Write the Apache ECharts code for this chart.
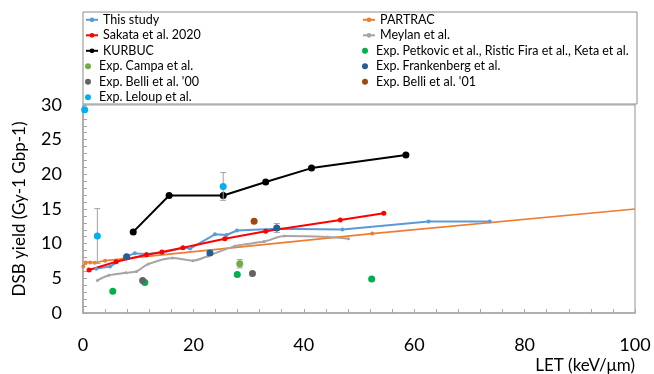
<!DOCTYPE html>
<html><head><meta charset="utf-8">
<script src="https://cdn.jsdelivr.net/npm/echarts@6/dist/echarts.min.js"></script>
<style>html,body{margin:0;padding:0;background:#fff}#c{width:654px;height:374px}</style>
</head><body><div id="c"></div>
<script>
// ---- data (LET in keV/um, DSB yield in Gy-1 Gbp-1) ----
const thisStudyLET   = [2.4, 4.9, 7.9, 9.4, 11.5, 14.3, 18.2, 19.4, 23.9, 26.0, 27.9, 35.1, 47.0, 62.6, 73.7];
const thisStudyYield = [6.4, 6.7, 8.2, 8.6, 8.5, 8.7, 9.4, 9.3, 11.35, 11.25, 11.9, 12.15, 12.05, 13.2, 13.2];

const partracLET   = [0.05, 0.5, 1.3, 2.1, 4.0, 52.4, 100];
const partracYield = [6.7, 7.3, 7.3, 7.25, 7.55, 11.45, 15.0];

const sakataLET   = [1.1, 6.0, 11.5, 14.3, 18.1, 25.7, 33.1, 46.6, 54.5];
const sakataYield = [6.2, 7.4, 8.4, 8.8, 9.4, 10.7, 11.8, 13.4, 14.4];

const meylanLET   = [2.6, 4.7, 7.8, 9.7, 11.8, 16.2, 19.9, 22.6, 27.5, 32.8, 36.5, 44.3, 48.1];
const meylanYield = [4.7, 5.45, 5.8, 6.0, 7.05, 7.95, 7.55, 8.2, 9.65, 10.3, 11.1, 10.95, 10.7];

const kurbucLET   = [9.1, 15.6, 25.4, 33.1, 41.4, 58.5];
const kurbucYield = [11.7, 16.95, 16.95, 18.9, 20.9, 22.8];

const petkovicLET   = [5.4, 11.2, 27.95, 52.3];
const petkovicYield = [3.15, 4.4, 5.55, 4.9];

const campaLET   = [28.4];
const campaYield = [7.1];
const campaErr   = [0.6];

const frankenbergLET   = [7.9, 23.0, 35.1];
const frankenbergYield = [8.1, 8.65, 12.25];
const frankenbergErr   = [0, 0, 0.65];

const belli00LET   = [10.8, 30.7];
const belli00Yield = [4.7, 5.7];

const belli01LET   = [31.0];
const belli01Yield = [13.25];

const leloupLET   = [0.3, 2.6, 25.4];
const leloupYield = [29.3, 11.1, 18.25];
const leloupErr   = [0, 3.95, 2.0];

const xTicks = {min: 0, max: 100, interval: 20};
const yTicks = {min: 0, max: 30, interval: 5};

const legendLeft  = ['This study', 'Sakata et al. 2020', 'KURBUC', 'Exp. Campa et al.', "Exp. Belli et al. '00", 'Exp. Leloup et al.'];
const legendRight = ['PARTRAC', 'Meylan et al.', 'Exp. Petkovic et al., Ristic Fira et al., Keta et al.', 'Exp. Frankenberg et al.', "Exp. Belli et al. '01"];

// ---- helpers ----
const zip = (xs, ys) => xs.map((x, i) => [x, ys[i]]);
const errData = (xs, ys, es) => xs.map((x, i) => [x, ys[i] - es[i], ys[i] + es[i]]).filter((d, i) => es[i] > 0);
const FONT = 'Lato';

function errRender(params, api) {
  const x = api.value(0), lo = api.value(1), hi = api.value(2);
  const p1 = api.coord([x, hi]), p2 = api.coord([x, lo]);
  const w = 3;
  const style = {stroke: '#A0A0A0', lineWidth: 1};
  return {type: 'group', children: [
    {type: 'line', shape: {x1: p1[0], y1: p1[1], x2: p2[0], y2: p2[1]}, style: style},
    {type: 'line', shape: {x1: p1[0] - w, y1: p1[1], x2: p1[0] + w, y2: p1[1]}, style: style},
    {type: 'line', shape: {x1: p2[0] - w, y1: p2[1], x2: p2[0] + w, y2: p2[1]}, style: style}
  ]};
}

function lineSeries(name, data, color, width, symSize, extra) {
  return Object.assign({
    name: name, type: 'line', data: data,
    symbol: 'circle', symbolSize: symSize, showSymbol: true,
    lineStyle: {color: color, width: width},
    itemStyle: {color: color},
    emphasis: {disabled: true}, animation: false
  }, extra || {});
}
function scatterSeries(name, xs, ys, color) {
  return {name: name, type: 'scatter', data: zip(xs, ys), symbol: 'circle', symbolSize: 7,
    itemStyle: {color: color, opacity: 1}, z: 5, animation: false};
}
function errSeries(data) {
  return {type: 'custom', renderItem: errRender, data: data, z: 4, silent: true, animation: false,
    encode: {x: 0, y: [1, 2]}};
}

// PARTRAC: no marker drawn at the final (axis-end) point
const partracData = zip(partracLET, partracYield).map((p, i, a) =>
  i === a.length - 1 ? {value: p, symbol: 'none'} : p);

// one legend component per row, so every row sits on the same 15.5px pitch
const legendText = {fontSize: 12.5, fontFamily: FONT, color: '#000', lineHeight: 12};
function legendRow(name, row, left) {
  return {orient: 'horizontal', left: left, top: 13.3 + row * 15.5, padding: 0,
    itemWidth: 12, itemHeight: 6, textStyle: legendText, selectedMode: false, data: [name]};
}
const legends = legendLeft.map((n, i) => legendRow(n, i, 85))
  .concat(legendRight.map((n, i) => legendRow(n, i, 362)));

const chart = echarts.init(document.getElementById('c'), null, {renderer: 'canvas'});
chart.setOption({
  backgroundColor: '#fff',
  animation: false,
  textStyle: {fontFamily: FONT},
  grid: {left: 83, right: 19, top: 105, bottom: 60, show: true, borderColor: '#A6A6A6', borderWidth: 1.2},
  graphic: [{type: 'rect', shape: {x: 83, y: 12, width: 554, height: 92},
    style: {fill: 'none', stroke: '#8C8C8C', lineWidth: 1}, z: 100}],
  legend: legends,
  xAxis: {
    type: 'value', min: xTicks.min, max: xTicks.max, interval: xTicks.interval,
    name: 'LET (keV/μm)', nameLocation: 'end', nameGap: 0,
    nameTextStyle: {fontSize: 17, fontFamily: FONT, color: '#000', align: 'right', verticalAlign: 'top', padding: [44, 0, 0, 0]},
    axisLine: {lineStyle: {color: '#A6A6A6', width: 1.5}},
    axisTick: {inside: true, length: 4, lineStyle: {color: '#A6A6A6'}},
    minorTick: {show: true, splitNumber: 5, length: 4, lineStyle: {color: '#A6A6A6'}},
    splitLine: {show: false},
    axisLabel: {fontSize: 18, fontFamily: FONT, color: '#000', margin: 23}
  },
  yAxis: {
    type: 'value', min: yTicks.min, max: yTicks.max, interval: yTicks.interval,
    name: 'DSB yield (Gy-1 Gbp-1)', nameLocation: 'middle', nameGap: 55, nameRotate: 90,
    nameTextStyle: {fontSize: 17, fontFamily: FONT, color: '#000'},
    axisLine: {show: true, lineStyle: {color: '#A6A6A6', width: 1.5}},
    axisTick: {show: true, inside: true, length: 4, lineStyle: {color: '#A6A6A6'}},
    minorTick: {show: true, splitNumber: 5, length: 4, lineStyle: {color: '#A6A6A6'}},
    splitLine: {show: false},
    axisLabel: {fontSize: 18, fontFamily: FONT, color: '#000', margin: 21}
  },
  series: [
    lineSeries('This study', zip(thisStudyLET, thisStudyYield), '#5B9BD5', 2, 4),
    lineSeries('PARTRAC', partracData, '#ED7D31', 1.6, 4),
    lineSeries('Sakata et al. 2020', zip(sakataLET, sakataYield), '#FF0000', 2, 5),
    lineSeries('Meylan et al.', zip(meylanLET, meylanYield), '#A5A5A5', 2, 3, {smooth: 0.3}),
    lineSeries('KURBUC', zip(kurbucLET, kurbucYield), '#000000', 2, 7),
    errSeries(errData(leloupLET, leloupYield, leloupErr)),
    errSeries(errData(campaLET, campaYield, campaErr)),
    errSeries(errData(frankenbergLET, frankenbergYield, frankenbergErr)),
    scatterSeries('Exp. Petkovic et al., Ristic Fira et al., Keta et al.', petkovicLET, petkovicYield, '#00B050'),
    scatterSeries('Exp. Campa et al.', campaLET, campaYield, '#70AD47'),
    scatterSeries('Exp. Frankenberg et al.', frankenbergLET, frankenbergYield, '#255E91'),
    scatterSeries("Exp. Belli et al. '00", belli00LET, belli00Yield, '#636363'),
    scatterSeries("Exp. Belli et al. '01", belli01LET, belli01Yield, '#9E480E'),
    scatterSeries('Exp. Leloup et al.', leloupLET, leloupYield, '#00B0F0')
  ]
});
</script></body></html>
